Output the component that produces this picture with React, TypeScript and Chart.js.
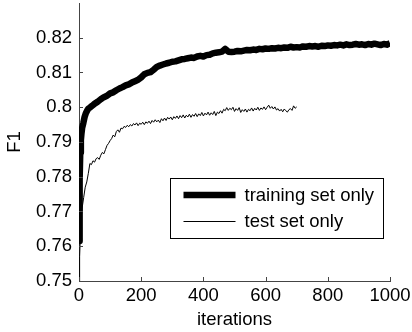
import React, { useEffect, useRef } from 'react';
import { Chart, registerables } from 'chart.js';

Chart.register(...registerables);

const FONT = '"Liberation Sans", Arial, Helvetica, sans-serif';
const FONT_SIZE = 18.5;

const xTicks = [0, 200, 400, 600, 800, 1000];
const yTicks = [0.75, 0.76, 0.77, 0.78, 0.79, 0.8, 0.81, 0.82];
const legendLabels = ['training set only', 'test set only'];
const xTitle = 'iterations';
const yTitle = 'F1';

const trainIter = [
  0, 2, 4, 6, 8, 10, 14, 18, 22, 26, 30, 35, 40, 45, 50, 60, 70, 80, 90, 100,
  110, 120, 130, 140, 150, 160, 170, 180, 190, 200, 210, 220, 230, 240, 250, 260, 270, 280, 290, 300,
  310, 320, 330, 340, 350, 360, 370, 380, 390, 400, 410, 420, 430, 440, 450, 460, 470, 475, 480, 490,
  500, 510, 520, 530, 540, 550, 560, 570, 580, 590, 600, 610, 620, 630, 640, 650, 660, 670, 680, 690,
  700, 710, 720, 730, 740, 750, 760, 770, 780, 790, 800, 810, 820, 830, 840, 850, 860, 870, 880, 890,
  900, 910, 920, 930, 940, 950, 960, 970, 980, 990, 1000,
];
const trainF1 = [
  0.7615, 0.779, 0.787, 0.7905, 0.7925, 0.794, 0.7955, 0.7972, 0.7983, 0.799, 0.7996, 0.7999, 0.8003, 0.8006, 0.801, 0.8016, 0.8023, 0.8029, 0.8033, 0.804,
  0.8043, 0.8049, 0.8054, 0.8058, 0.8063, 0.8066, 0.8071, 0.8075, 0.8079, 0.8086, 0.8095, 0.8099, 0.8101, 0.8108, 0.8116, 0.812, 0.8123, 0.8126, 0.8128, 0.8131,
  0.8132, 0.8135, 0.8138, 0.8139, 0.8141, 0.8143, 0.8142, 0.8146, 0.8148, 0.8146, 0.815, 0.8151, 0.8155, 0.8157, 0.8158, 0.816, 0.8168, 0.8164, 0.816, 0.8159,
  0.816, 0.8162, 0.8161, 0.8163, 0.8165, 0.8164, 0.8166, 0.8165, 0.8168, 0.8167, 0.8169, 0.8168, 0.817, 0.8169, 0.8171, 0.817, 0.8172, 0.8171, 0.8174, 0.8172,
  0.8173, 0.8172, 0.8175, 0.8174, 0.8176, 0.8175, 0.8176, 0.8174, 0.8177, 0.8176, 0.8178, 0.8177, 0.8179, 0.8178, 0.818, 0.8178, 0.8181, 0.8179, 0.818, 0.8182,
  0.818, 0.8181, 0.8179, 0.8182, 0.818, 0.8183, 0.8181, 0.8179, 0.8182, 0.818, 0.8184,
];

const testIter = [
  0, 2, 4, 6, 8, 10, 15, 20, 25, 30, 35, 40, 45, 50, 55, 60, 65, 70, 75, 80,
  85, 90, 95, 100, 105, 110, 115, 120, 125, 130, 135, 140, 145, 150, 155, 160, 165, 170, 175, 180,
  185, 190, 195, 200, 205, 210, 215, 220, 225, 230, 235, 240, 245, 250, 255, 260, 265, 270, 275, 280,
  285, 290, 295, 300, 305, 310, 315, 320, 325, 330, 335, 340, 345, 350, 355, 360, 365, 370, 375, 380,
  385, 390, 395, 400, 405, 410, 415, 420, 425, 430, 435, 440, 445, 450, 455, 460, 465, 470, 475, 480,
  485, 490, 495, 500, 505, 510, 515, 520, 525, 530, 535, 540, 545, 550, 555, 560, 565, 570, 575, 580,
  585, 590, 595, 600, 605, 610, 615, 620, 625, 630, 635, 640, 645, 650, 655, 660, 665, 670, 675, 680,
  685, 690, 695, 700,
];
const testF1 = [
  0.75, 0.757, 0.762, 0.766, 0.769, 0.771, 0.774, 0.777, 0.7785, 0.781, 0.7838, 0.7835, 0.7846, 0.7842, 0.7852, 0.7855, 0.785, 0.7862, 0.787, 0.7866,
  0.7878, 0.789, 0.7896, 0.7904, 0.791, 0.792, 0.7915, 0.793, 0.7935, 0.7928, 0.794, 0.7938, 0.7945, 0.7942, 0.7948, 0.7944, 0.795, 0.7946, 0.7953, 0.7949,
  0.7955, 0.7947, 0.7954, 0.7951, 0.7957, 0.795, 0.7958, 0.7954, 0.796, 0.7953, 0.7962, 0.7957, 0.7964, 0.7958, 0.7963, 0.7956, 0.7967, 0.7961, 0.7969, 0.7962,
  0.7971, 0.7966, 0.7972, 0.7964, 0.7973, 0.7968, 0.7975, 0.7967, 0.7976, 0.797, 0.7978, 0.7969, 0.7977, 0.7972, 0.798, 0.7971, 0.7979, 0.7974, 0.7982, 0.7973,
  0.7981, 0.7976, 0.7985, 0.7975, 0.7983, 0.7978, 0.7986, 0.7977, 0.7984, 0.7979, 0.7988, 0.7976, 0.7986, 0.7982, 0.799, 0.7983, 0.7994, 0.799, 0.7999, 0.7991,
  0.7997, 0.7993, 0.8, 0.7988, 0.7996, 0.7991, 0.7999, 0.7985, 0.7993, 0.7988, 0.7995, 0.7986, 0.7994, 0.799, 0.7998, 0.7989, 0.7997, 0.7992, 0.8, 0.7991,
  0.7998, 0.7994, 0.8001, 0.7993, 0.8, 0.8006, 0.7997, 0.8002, 0.7995, 0.8001, 0.7992, 0.7996, 0.7989, 0.7994, 0.7987, 0.7995, 0.799, 0.7986, 0.7993, 0.7996,
  0.7991, 0.8004, 0.7997, 0.8001,
];

export default function App() {
  const ref = useRef<HTMLCanvasElement>(null);

  useEffect(() => {
    document.body.style.margin = '0';
    const canvas = ref.current;
    if (!canvas) return;

    const inwardTicks = {
      id: 'inwardTicks',
      afterDraw(chart: any) {
        const { ctx, chartArea, scales } = chart;
        ctx.save();
        ctx.strokeStyle = '#444';
        ctx.lineWidth = 1;
        ctx.beginPath();
        xTicks.forEach((v) => {
          const px = Math.round(scales.x.getPixelForValue(v)) + 0.5;
          ctx.moveTo(px, chartArea.bottom);
          ctx.lineTo(px, chartArea.bottom - 4);
        });
        yTicks.forEach((v) => {
          const py = Math.round(scales.y.getPixelForValue(v)) + 0.5;
          ctx.moveTo(chartArea.left, py);
          ctx.lineTo(chartArea.left + 4, py);
        });
        ctx.stroke();
        ctx.restore();
      },
    };

    const boxLegend = {
      id: 'boxLegend',
      afterDraw(chart: any) {
        const { ctx, chartArea } = chart;
        const bx = chartArea.left + 91.5;
        const by = chartArea.top + 175.5;
        const bw = 213;
        const bh = 60;
        ctx.save();
        ctx.fillStyle = '#fff';
        ctx.fillRect(bx, by, bw, bh);
        ctx.strokeStyle = '#000';
        ctx.lineWidth = 1;
        ctx.strokeRect(bx, by, bw, bh);
        const widths = [6.5, 1];
        const rowY = [by + 16.5, by + 43];
        ctx.font = `${FONT_SIZE}px ${FONT}`;
        ctx.textBaseline = 'middle';
        ctx.textAlign = 'left';
        legendLabels.forEach((lab, i) => {
          ctx.beginPath();
          ctx.lineWidth = widths[i];
          ctx.strokeStyle = '#000';
          ctx.moveTo(bx + 13, rowY[i]);
          ctx.lineTo(bx + 65, rowY[i]);
          ctx.stroke();
          ctx.fillStyle = '#000';
          ctx.fillText(lab, bx + 74, rowY[i] + 0.5);
        });
        ctx.restore();
      },
    };

    const chart = new Chart(canvas, {
      type: 'line',
      data: {
        datasets: [
          {
            label: legendLabels[0],
            data: trainIter.map((x, i) => ({ x, y: trainF1[i] })),
            borderColor: '#000',
            borderWidth: 6.5,
            pointRadius: 0,
            tension: 0,
            borderJoinStyle: 'round',
            borderCapStyle: 'butt',
          },
          {
            label: legendLabels[1],
            data: testIter.map((x, i) => ({ x, y: testF1[i] })),
            borderColor: '#000',
            borderWidth: 1,
            pointRadius: 0,
            tension: 0,
          },
        ],
      },
      plugins: [inwardTicks, boxLegend],
      options: {
        responsive: false,
        animation: false,
        events: [],
        layout: { padding: { top: 3, right: 22, left: 0, bottom: 0 } },
        plugins: {
          legend: { display: false },
          tooltip: { enabled: false },
          title: { display: false },
        },
        scales: {
          x: {
            type: 'linear',
            min: 0,
            max: 1000,
            grid: { display: false, drawTicks: false },
            border: { display: true, color: '#444', width: 1 },
            ticks: {
              stepSize: 200,
              padding: 4,
              color: '#000',
              font: { family: FONT, size: FONT_SIZE },
              maxRotation: 0,
              callback: (v: any) => String(v),
            },
            title: {
              display: true,
              text: xTitle,
              color: '#000',
              font: { family: FONT, size: FONT_SIZE },
              padding: { top: 0, bottom: 1 },
            },
            afterFit: (s: any) => {
              s.height = 51;
              s.paddingLeft = 0;
              s.paddingRight = 0;
            },
          },
          y: {
            type: 'linear',
            min: 0.75,
            max: 0.83,
            grid: { display: false, drawTicks: false },
            border: { display: true, color: '#444', width: 1 },
            ticks: {
              stepSize: 0.01,
              padding: 7,
              color: '#000',
              font: { family: FONT, size: FONT_SIZE },
              callback: (v: any) => (v > 0.825 ? '' : String(Number(Number(v).toFixed(2)))),
            },
            title: {
              display: true,
              text: yTitle,
              color: '#000',
              font: { family: FONT, size: FONT_SIZE },
              padding: { top: 4, bottom: 0 },
            },
            afterFit: (s: any) => {
              s.width = 79;
              s.paddingTop = 0;
              s.paddingBottom = 0;
            },
          },
        },
      },
    } as any);

    return () => chart.destroy();
  }, []);

  return (
    <div style={{ width: 412, height: 332 }}>
      <canvas ref={ref} width={412} height={332} style={{ display: 'block' }} />
    </div>
  );
}
